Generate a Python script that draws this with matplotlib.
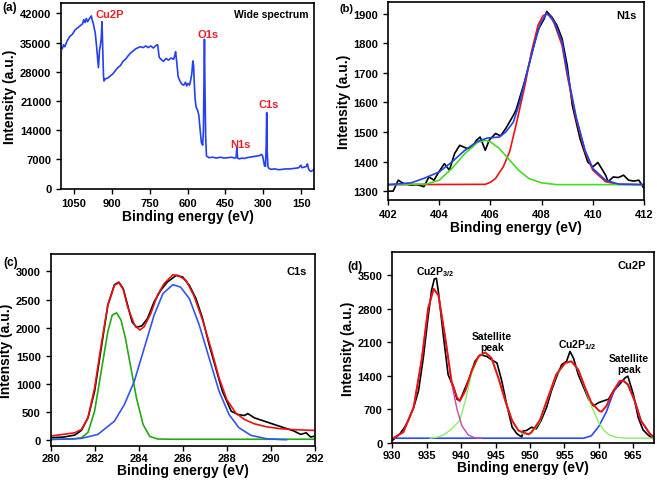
import matplotlib
matplotlib.use("Agg")
import matplotlib.pyplot as plt

plt.rcParams['font.family'] = ['Liberation Sans', 'DejaVu Sans']
plt.rcParams['font.weight'] = 'bold'
plt.rcParams['axes.labelweight'] = 'bold'
plt.rcParams['mathtext.fontset'] = 'custom'
plt.rcParams['mathtext.rm'] = 'Liberation Sans'
plt.rcParams['mathtext.bf'] = 'Liberation Sans:bold'

# ---- (a) wide spectrum ----
wide_be = [1100, 1095, 1090, 1085, 1075, 1065, 1055, 1045, 1035, 1025, 1015, 1010, 1005, 1000,
           995, 990, 985, 980, 977, 972, 968, 965, 960, 955, 952, 948, 944, 941, 938, 935, 932,
           930, 925, 915, 905, 895, 885, 875, 865, 855, 845, 835, 825, 815, 805, 795, 785, 775,
           765, 755, 745, 735, 725, 718, 715, 712, 705, 695, 685, 675, 665, 655, 650, 647, 642,
           637, 630, 622, 615, 608, 603, 598, 592, 588, 583, 579, 576, 573, 570, 566, 560, 555,
           550, 545, 540, 537, 535, 533, 531, 528, 525, 515, 500, 485, 470, 455, 440, 425, 415,
           408, 405, 402, 395, 385, 375, 365, 355, 345, 335, 325, 315, 308, 303, 299, 296, 292,
           289, 287, 285, 282, 278, 270, 255, 240, 225, 210, 195, 180, 168, 160, 152, 148, 140,
           130, 126, 122, 118, 112, 106, 100]
wide_int = [34000, 33500, 34500, 34000, 35500, 36500, 37000, 38000, 38500, 39000, 39500, 40500,
            39800, 40800, 40000, 40500, 41000, 41400, 40500, 39500, 38200, 37500, 34500, 31000,
            29000, 33000, 34500, 36000, 40000, 33000, 27000, 25800, 26300, 26500, 27000, 27500,
            28300, 29000, 29500, 30500, 31000, 31800, 32500, 33000, 33500, 33800, 34000, 33800,
            34200, 33800, 34200, 33700, 34300, 34500, 33000, 31500, 31000, 30500, 31200, 30800,
            31300, 31000, 32000, 32800, 30000, 26800, 25800, 25000, 24800, 25500, 24600, 25200,
            24800, 25800, 27500, 30600, 29500, 25000, 21500, 19500, 18800, 17500, 14000, 11000,
            10400, 14000, 26000, 35800, 24000, 12000, 7800, 7400, 7500, 7300, 7500, 7300, 7400,
            7500, 7300, 7400, 9800, 7300, 7100, 7300, 7200, 7400, 7500, 7600, 7700, 7800, 7900,
            8200, 7800, 6500, 5500, 5300, 10000, 18200, 9000, 5200, 4800, 4600, 4700, 4500, 4600,
            4700, 4700, 4800, 4900, 5000, 5600, 5000, 5100, 5300, 5900, 4800, 4300, 4100, 4300,
            4600]
wide_peaks = ['Cu2P', 'O1s', 'N1s', 'C1s']
wide_peak_be = [906, 517, 392, 280]
wide_peak_y = [41800, 37000, 10600, 20200]

# ---- (b) N1s ----
n_be = [402.0, 402.2, 402.4, 402.6, 402.9, 403.1, 403.3, 403.4, 403.6, 403.8, 403.95, 404.2,
        404.4, 404.6, 404.8, 405.1, 405.3, 405.45, 405.6, 405.8, 405.95, 406.2, 406.4, 406.6,
        406.9, 407.0, 407.35, 407.6, 407.85, 408.1, 408.2, 408.4, 408.6, 408.8, 409.0, 409.2,
        409.5, 409.8, 410.0, 410.2, 410.5, 410.6, 410.8, 411.0, 411.2, 411.4, 411.6, 411.8, 412.0]
n_raw = [1300, 1300, 1337, 1326, 1320, 1322, 1318, 1315, 1348, 1337, 1360, 1393, 1371, 1427,
         1455, 1444, 1450, 1472, 1483, 1438, 1472, 1495, 1487, 1512, 1557, 1574, 1675, 1759,
         1844, 1883, 1908, 1889, 1861, 1816, 1725, 1590, 1478, 1399, 1382, 1397, 1354, 1332,
         1348, 1346, 1354, 1337, 1334, 1337, 1309]
n_red_be = [402.0, 405.8, 406.0, 406.2, 406.5, 406.75, 407.0, 407.2, 407.35, 407.6, 407.86,
            408.05, 408.2, 408.35, 408.5, 408.8, 409.0, 409.35, 409.7, 410.0, 410.5, 411.0, 412.0]
n_red = [1322, 1323, 1330, 1343, 1382, 1433, 1523, 1600, 1658, 1770, 1861, 1893, 1900, 1892,
         1866, 1793, 1692, 1545, 1433, 1371, 1332, 1323, 1322]
n_green_be = [402.0, 403.5, 404.0, 404.5, 405.0, 405.5, 405.8, 406.0, 406.35, 406.7, 407.1,
              407.5, 408.0, 408.6, 412.0]
n_green = [1322, 1324, 1337, 1377, 1427, 1465, 1472, 1467, 1444, 1410, 1371, 1343, 1328, 1322, 1322]
n_blue_be = [402.0, 402.9, 403.4, 404.0, 404.5, 405.0, 405.5, 405.9, 406.35, 406.6, 406.9,
             407.15, 407.4, 407.7, 407.95, 408.2, 408.5, 408.8, 409.0, 409.35, 409.7, 410.0,
             410.5, 411.0, 412.0]
n_blue = [1322, 1328, 1343, 1365, 1399, 1438, 1469, 1480, 1483, 1500, 1534, 1602, 1692, 1793,
          1866, 1903, 1872, 1805, 1703, 1551, 1438, 1377, 1337, 1324, 1322]

# ---- (c) C1s ----
c_be = [280.0, 280.6, 281.1, 281.4, 281.7, 282.0, 282.3, 282.6, 282.9, 283.1, 283.3, 283.5,
        283.7, 283.9, 284.15, 284.4, 284.7, 285.0, 285.3, 285.7, 286.0, 286.3, 286.6, 286.9,
        287.2, 287.5, 287.8, 288.2, 288.5, 288.8, 288.95, 289.25, 289.7, 290.15, 290.6, 291.05,
        291.35, 291.6, 291.8, 292.0]
c_raw = [47, 59, 94, 176, 400, 870, 1635, 2400, 2765, 2810, 2694, 2400, 2106, 2006, 2035, 2165,
         2459, 2665, 2812, 2929, 2900, 2753, 2518, 2165, 1694, 1282, 870, 518, 459, 441, 476,
         400, 341, 282, 224, 165, 106, 135, 59, 76]
c_red_be = [280.0, 281.1, 281.4, 281.7, 282.0, 282.3, 282.6, 282.9, 283.1, 283.3, 283.5, 283.8,
            284.05, 284.25, 284.55, 284.85, 285.15, 285.55, 285.8, 286.15, 286.5, 286.9, 287.3,
            287.65, 288.0, 288.4, 288.8, 289.25, 289.8, 290.45, 291.2, 292.0]
c_red = [76, 135, 194, 400, 929, 1694, 2400, 2753, 2800, 2682, 2371, 2059, 1959, 2018, 2253,
         2576, 2782, 2941, 2929, 2841, 2576, 2135, 1606, 1106, 723, 488, 371, 294, 241, 206, 188, 176]
c_green_be = [280.0, 281.0, 281.4, 281.7, 282.0, 282.3, 282.6, 282.8, 283.0, 283.2, 283.4,
              283.65, 283.9, 284.2, 284.5, 284.85, 285.5, 292.0]
c_green = [20, 22, 45, 140, 518, 1224, 1929, 2224, 2265, 2135, 1812, 1282, 753, 282, 70, 25, 20, 20]
c_blue_be = [280.0, 281.4, 282.15, 282.9, 283.35, 283.8, 284.25, 284.7, 285.1, 285.55, 285.9,
             286.3, 286.75, 287.2, 287.65, 288.1, 288.55, 289.1, 289.8, 290.45, 290.7]
c_blue = [15, 35, 106, 341, 635, 1047, 1635, 2224, 2606, 2765, 2723, 2518, 2047, 1459, 870, 459,
          224, 88, 29, 15, 12]

# ---- (d) Cu2P ----
cu_be = [930.0, 930.15, 931.1, 931.8, 932.3, 933.1, 933.8, 934.5, 935.2, 935.7, 936.1, 936.4,
         936.7, 937.4, 938.1, 938.9, 939.4, 939.8, 940.6, 941.3, 942.0, 942.8, 943.7, 944.4,
         945.2, 945.9, 946.6, 947.4, 948.1, 948.8, 949.0, 949.5, 950.2, 950.9, 951.6, 952.4,
         953.1, 953.8, 954.6, 955.3, 955.8, 956.3, 957.0, 957.8, 958.5, 959.2, 960.0, 960.7,
         961.4, 962.1, 962.8, 963.8, 964.2, 965.0, 965.7, 966.4, 967.2, 967.9, 968.0]
cu_raw = [60, 68, 192, 329, 467, 741, 1085, 1771, 2630, 3180, 3418, 3432, 3143, 2253, 1428,
          1153, 913, 879, 1153, 1393, 1702, 1840, 1805, 1736, 1668, 1290, 810, 329, 192, 124,
          250, 261, 329, 295, 467, 741, 1085, 1359, 1634, 1702, 1908, 1771, 1428, 1153, 913,
          775, 844, 879, 913, 1085, 1188, 1359, 1393, 1016, 535, 275, 158, 90, 100]
cu_red_be = [930.0, 931.6, 933.1, 934.3, 935.2, 936.0, 936.7, 937.7, 938.6, 939.4, 939.8,
             940.6, 941.5, 942.5, 943.5, 944.4, 945.4, 946.4, 947.4, 948.3, 949.8, 950.2, 951.4,
             952.6, 953.8, 955.1, 956.0, 957.0, 958.0, 958.9, 960.0, 960.4, 961.1, 962.1, 963.0,
             963.5, 964.2, 965.2, 966.1, 967.4, 968.0]
cu_red = [90, 226, 741, 1771, 2802, 3214, 3077, 2184, 1290, 947, 879, 1085, 1496, 1805, 1888,
          1771, 1359, 879, 467, 261, 179, 226, 467, 947, 1428, 1668, 1702, 1531, 1153, 844, 673,
          652, 775, 1085, 1290, 1304, 1222, 879, 467, 192, 124]
cu_mag_be = [930.0, 931.6, 933.1, 934.3, 935.2, 936.0, 936.7, 937.7, 938.6, 939.4, 940.1, 941.0,
             942.0, 943.0]
cu_mag = [90, 226, 741, 1771, 2802, 3214, 3077, 2184, 1250, 700, 360, 170, 105, 100]
cu_green_be = [935.5, 936.5, 937.5, 938.5, 939.2, 939.8, 940.6, 941.5, 942.5, 943.5, 944.4,
               945.4, 946.4, 947.4, 948.3, 949.0, 950.2, 951.4, 952.6, 953.8, 955.1, 956.0,
               957.0, 958.0, 958.9, 960.0, 960.7, 961.5, 962.5, 964.0, 968.0]
cu_green = [100, 120, 170, 280, 380, 470, 880, 1440, 1790, 1885, 1770, 1360, 880, 470, 260, 185,
            200, 440, 930, 1410, 1660, 1700, 1520, 1130, 770, 420, 270, 170, 120, 100, 100]
cu_blue_be = [930.0, 957.8, 958.9, 960.0, 961.1, 962.1, 963.0, 963.5, 964.2, 965.2, 966.1,
              967.4, 968.0]
cu_blue = [100, 100, 150, 350, 655, 1050, 1270, 1300, 1220, 879, 467, 192, 124]
cu_labels = [r'Cu2P$_{\mathrm{3/2}}$', 'Satellite\npeak', r'Cu2P$_{\mathrm{1/2}}$', 'Satellite\npeak']
cu_label_be = [936.3, 944.5, 956.8, 964.4]
cu_label_y = [3583, 2120, 2060, 1650]


def style_axes(ax, pad=3.0):
    for s in ax.spines.values():
        s.set_linewidth(1.2)
    ax.tick_params(direction='out', length=3.5, width=1.0, labelsize=8, top=False, right=False)
    ax.tick_params(axis='x', pad=pad)
    ax.set_xlabel('Binding energy (eV)', fontsize=10, labelpad=0 if pad < 3 else 1)
    ax.set_ylabel('Intensity (a.u.)', fontsize=10, labelpad=2)


fig = plt.figure(figsize=(6.57, 4.81), dpi=100)
W, H = 657.0, 481.0

def add_ax(l, r, t, b):
    return fig.add_axes([l / W, 1 - b / H, (r - l) / W, (b - t) / H])

# (a)
ax = add_ax(61, 314, 4, 189.5)
ax.plot(wide_be, wide_int, color='#2440f0', lw=1.2)
ax.set_xlim(1100, 100)
ax.set_ylim(0, 44500)
ax.set_xticks([1050, 900, 750, 600, 450, 300, 150])
ax.set_yticks([0, 7000, 14000, 21000, 28000, 35000, 42000])
for name, x, y in zip(wide_peaks, wide_peak_be, wide_peak_y):
    ax.text(x, y, name, color='#e8202a', fontsize=8, ha='center', va='center')
ax.text(0.98, 0.97, 'Wide spectrum', transform=ax.transAxes, fontsize=7.5, ha='right', va='top')
style_axes(ax)

# (b)
ax = add_ax(388, 644, 3, 201)
ax.plot(n_be, n_raw, color='black', lw=1.2)
ax.plot(n_red_be, n_red, color='#ee1111', lw=1.2)
ax.plot(n_green_be, n_green, color='#44dd22', lw=1.2)
ax.plot(n_blue_be, n_blue, color='#2244ee', lw=1.2)
ax.set_xlim(402, 412)
ax.set_ylim(1270, 1940)
ax.set_xticks([402, 404, 406, 408, 410, 412])
ax.set_yticks([1300, 1400, 1500, 1600, 1700, 1800, 1900])
ax.text(0.97, 0.96, 'N1s', transform=ax.transAxes, fontsize=8, ha='right', va='top')
style_axes(ax)

# (c)
ax = add_ax(50.5, 315, 255, 447)
ax.plot(c_be, c_raw, color='black', lw=1.2)
ax.plot(c_green_be, c_green, color='#22aa11', lw=1.2)
ax.plot(c_blue_be, c_blue, color='#3355ee', lw=1.2)
ax.plot(c_red_be, c_red, color='#ee1111', lw=1.2)
ax.set_xlim(280, 292)
ax.set_ylim(-100, 3310)
ax.set_xticks([280, 282, 284, 286, 288, 290, 292])
ax.set_yticks([0, 500, 1000, 1500, 2000, 2500, 3000])
ax.text(0.97, 0.94, 'C1s', transform=ax.transAxes, fontsize=8, ha='right', va='top')
style_axes(ax, pad=1.5)

# (d)
ax = add_ax(392.3, 654, 253, 444)
ax.plot(cu_be, cu_raw, color='black', lw=1.2)
ax.plot(cu_blue_be, cu_blue, color='#2a4cf0', lw=1.2)
ax.plot(cu_green_be, cu_green, color='#88ee66', lw=1.0)
ax.plot(cu_mag_be, cu_mag, color='#cc44aa', lw=1.0)
ax.plot(cu_red_be, cu_red, color='#ee1111', lw=1.4)
ax.set_xlim(930, 968)
ax.set_ylim(40, 3980)
ax.set_xticks([930, 935, 940, 945, 950, 955, 960, 965])
ax.set_yticks([0, 700, 1400, 2100, 2800, 3500])
for name, x, y in zip(cu_labels, cu_label_be, cu_label_y):
    ax.text(x, y, name, fontsize=7.5, ha='center', va='center', linespacing=1.1)
ax.text(0.97, 0.96, 'Cu2P', transform=ax.transAxes, fontsize=8, ha='right', va='top')
style_axes(ax, pad=1.5)

# panel letters
fig.text(2 / W, 1 - 2 / H, '(a)', fontsize=8.5, va='top')
fig.text(339 / W, 1 - 4 / H, '(b)', fontsize=8, va='top')
fig.text(3 / W, 1 - 257 / H, '(c)', fontsize=8.5, va='top')
fig.text(347 / W, 1 - 261 / H, '(d)', fontsize=8.5, va='top')

fig.savefig('out.png', dpi=100)
